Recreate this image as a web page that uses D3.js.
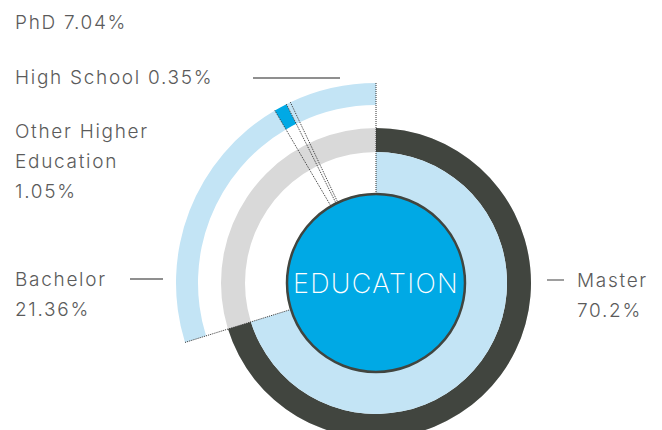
<!DOCTYPE html>
<html>
<head>
<meta charset="utf-8">
<script src="https://cdn.jsdelivr.net/npm/d3@7"></script>
<style>
  html, body { margin: 0; padding: 0; background: #fff; }
  svg { display: block; }
  text { font-family: Inter, "Open Sans", sans-serif; }
</style>
</head>
<body>
<svg id="chart" width="662" height="430"></svg>
<script>
const categories = ["Master", "Bachelor", "Other Higher Education", "High School", "PhD"];
const values = [70.2, 21.36, 1.05, 0.35, 7.04];
const labelLines = [["Master", "70.2%"], ["Bachelor", "21.36%"], ["Other Higher", "Education", "1.05%"], ["High School 0.35%"], ["PhD 7.04%"]];
const centerTitle = "EDUCATION";

const W = 662, H = 430;
const cx = 376, cy = 283;
const rCore = 89, rMid = 131, rTrack = 155, rOutIn = 178, rOut = 200;

const C = {
  light: "#c3e4f5", dark: "#41453f", blue: "#00a9e5", gray: "#d9d9d9",
  text: "#5b5b5b", line: "#6a6a6a", dots: "#333"
};

const svg = d3.select("#chart");
const g = svg.append("g").attr("transform", `translate(${cx},${cy})`);

const pie = d3.pie().sort(null).value(d => d.value).startAngle(0).endAngle(2 * Math.PI);
const data = categories.map((c, i) => ({ name: c, value: values[i] }));
const arcs = pie(data);
const master = arcs[0];

// gray track + dark master ring
g.append("path")
  .attr("d", d3.arc().innerRadius(rMid).outerRadius(rTrack)({ startAngle: 0, endAngle: 2 * Math.PI }))
  .attr("fill", C.gray);
g.append("path")
  .attr("d", d3.arc().innerRadius(rMid).outerRadius(rTrack)(master))
  .attr("fill", C.dark);
// master inner fill
g.append("path")
  .attr("d", d3.arc().innerRadius(rCore).outerRadius(rMid)(master))
  .attr("fill", C.light);

// outer ring for remaining categories
const outerArc = d3.arc().innerRadius(rOutIn).outerRadius(rOut);
g.selectAll("path.outer")
  .data(arcs.slice(1))
  .join("path")
  .attr("class", "outer")
  .attr("d", outerArc)
  .attr("fill", d => d.data.name === "Other Higher Education" ? C.blue : C.light);

// dotted boundary lines
const bounds = [0].concat(arcs.map(a => a.endAngle).slice(0, -1));
g.selectAll("line.bound")
  .data(bounds)
  .join("line")
  .attr("class", "bound")
  .attr("x1", a => Math.sin(a) * rCore)
  .attr("y1", a => -Math.cos(a) * rCore)
  .attr("x2", a => Math.sin(a) * rOut)
  .attr("y2", a => -Math.cos(a) * rOut)
  .attr("stroke", C.dots)
  .attr("stroke-width", 1)
  .attr("stroke-dasharray", "1,1");

// center circle
g.append("circle")
  .attr("r", rCore)
  .attr("fill", C.blue)
  .attr("stroke", C.dark)
  .attr("stroke-width", 2.5);
g.append("text")
  .attr("x", 0).attr("y", 10)
  .attr("text-anchor", "middle")
  .attr("fill", "#fff")
  .attr("font-size", 27)
  .attr("font-weight", 200)
  .attr("letter-spacing", 1.3)
  .text(centerTitle);

// labels
const labelPos = [
  { x: 577, y: 287 }, { x: 15, y: 286 }, { x: 15, y: 138 }, { x: 15, y: 84 }, { x: 15, y: 29 }
];
const lt = svg.append("g")
  .attr("fill", C.text)
  .attr("font-size", 19)
  .attr("font-weight", 300)
  .attr("letter-spacing", 1.7);
labelLines.forEach((lines, i) => {
  const t = lt.append("text").attr("x", labelPos[i].x).attr("y", labelPos[i].y);
  lines.forEach((s, j) => {
    t.append("tspan").attr("x", labelPos[i].x).attr("dy", j === 0 ? 0 : 30).text(s);
  });
});

// leader lines
const leaders = [
  { x1: 547, x2: 564, y: 280 }, { x1: 130, x2: 163, y: 279 }, { x1: 253, x2: 340, y: 78 }
];
svg.selectAll("line.leader")
  .data(leaders)
  .join("line")
  .attr("class", "leader")
  .attr("x1", d => d.x1).attr("x2", d => d.x2)
  .attr("y1", d => d.y).attr("y2", d => d.y)
  .attr("stroke", C.line)
  .attr("stroke-width", 1.3);
</script>
</body>
</html>
